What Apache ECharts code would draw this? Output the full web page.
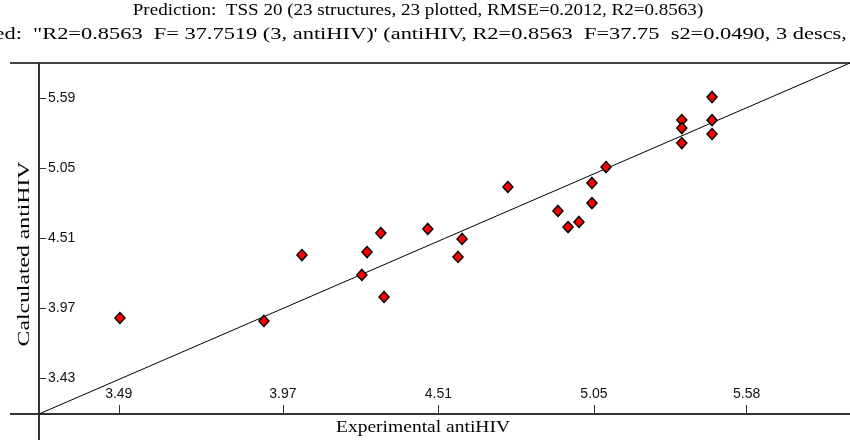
<!DOCTYPE html>
<html>
<head>
<meta charset="utf-8">
<script src="https://cdn.jsdelivr.net/npm/echarts@6/dist/echarts.min.js"></script>
<style>
html,body{margin:0;padding:0;background:#fff;}
#chart{width:850px;height:440px;}
</style>
</head>
<body>
<div id="chart"></div>
<script>
// ---- data ----
const experimental = [3.404, 3.904, 4.036, 4.310, 4.262, 4.244, 4.321, 4.473, 4.592, 4.578, 4.751, 4.925, 4.960, 4.998, 5.043, 5.043, 5.092, 5.460, 5.355, 5.355, 5.355, 5.460, 5.460];
const calculated   = [3.893, 3.870, 4.379, 4.549, 4.402, 4.225, 4.055, 4.580, 4.503, 4.364, 4.904, 4.719, 4.595, 4.634, 4.780, 4.935, 5.058, 5.598, 5.421, 5.359, 5.243, 5.420, 5.313];

const xTickValues = [3.40, 3.97, 4.51, 5.05, 5.58];
const xTickLabels = ['3.49', '3.97', '4.51', '5.05', '5.58'];
const yTickValues = [3.43, 3.97, 4.51, 5.05, 5.59];
const yTickLabels = ['3.43', '3.97', '4.51', '5.05', '5.59'];

const xRange = [3.123, 5.939];
const yRange = [3.152, 5.861];
const fitLineX = [3.123, 5.939];
const fitLineY = [3.152, 5.861];

const titleLine1 = 'Prediction:  TSS 20 (23 structures, 23 plotted, RMSE=0.2012, R2=0.8563)';
const titleLine2 = 'ed:  "R2=0.8563  F= 37.7519 (3, antiHIV)\' (antiHIV, R2=0.8563  F=37.75  s2=0.0490, 3 descs,';
const xName = 'Experimental antiHIV';
const yName = 'Calculated antiHIV';

// ---- build ----
function labelFor(values, labels) {
  return function (v) {
    let best = 0, bd = Infinity;
    values.forEach((t, i) => { const d = Math.abs(t - v); if (d < bd) { bd = d; best = i; } });
    return labels[best];
  };
}
const points = experimental.map((x, i) => [x, calculated[i]]);
const fit = fitLineX.map((x, i) => [x, fitLineY[i]]);

const serif = '"Liberation Serif", "DejaVu Serif", serif';
const sans = '"Liberation Sans", Arial, sans-serif';
const axisCol = '#333';

const chart = echarts.init(document.getElementById('chart'));
chart.setOption({
  animation: false,
  backgroundColor: '#fff',
  grid: { left: 39, right: 0, top: 63, bottom: 26, containLabel: false, outerBoundsMode: 'none' },
  xAxis: {
    type: 'value', min: xRange[0], max: xRange[1],
    splitLine: { show: false },
    axisLine: { show: true, lineStyle: { color: axisCol, width: 2 } },
    axisTick: { show: true, inside: true, length: 9, customValues: xTickValues, lineStyle: { color: axisCol, width: 1 } },
    axisLabel: { show: true, inside: true, margin: 13, customValues: xTickValues, formatter: labelFor(xTickValues, xTickLabels),
      fontFamily: sans, fontSize: 14, color: '#111' }
  },
  yAxis: {
    type: 'value', min: yRange[0], max: yRange[1],
    splitLine: { show: false },
    axisLine: { show: true, lineStyle: { color: axisCol, width: 2 } },
    axisTick: { show: true, inside: true, length: 7, customValues: yTickValues, lineStyle: { color: axisCol, width: 1 } },
    axisLabel: { show: true, inside: true, margin: 9, customValues: yTickValues, formatter: labelFor(yTickValues, yTickLabels),
      fontFamily: sans, fontSize: 14, color: '#111' }
  },
  series: [
    {
      type: 'line', data: fit, showSymbol: false, symbol: 'none',
      lineStyle: { color: '#000', width: 1 }, z: 2, silent: true
    },
    {
      type: 'scatter', data: points, symbol: 'diamond', symbolSize: [10, 11],
      itemStyle: { color: '#ff0000', borderColor: '#000', borderWidth: 1.5, opacity: 1 }, z: 3
    }
  ],
  graphic: [
    { type: 'text', x: 418, y: 11, scaleX: 1.19, style: { text: titleLine1, font: '16px ' + serif, fill: '#000', align: 'center', verticalAlign: 'middle' } },
    { type: 'text', x: -5.5, y: 35, scaleX: 1.4, style: { text: titleLine2, font: '16px ' + serif, fill: '#000', align: 'left', verticalAlign: 'middle' } },
    { type: 'rect', shape: { x: 10, y: 62, width: 840, height: 2 }, style: { fill: '#444' } },
    { type: 'line', shape: { x1: 10, y1: 414, x2: 39, y2: 414 }, style: { stroke: axisCol, lineWidth: 2 } },
    { type: 'line', shape: { x1: 39, y1: 414, x2: 39, y2: 440 }, style: { stroke: axisCol, lineWidth: 2 } },
    { type: 'text', x: 423, y: 428, scaleX: 1.22, style: { text: xName, font: '16px ' + serif, fill: '#000', align: 'center', verticalAlign: 'middle' } },
    { type: 'text', x: 25, y: 254, rotation: Math.PI / 2, scaleX: 1.48, style: { text: yName, font: '16px ' + serif, fill: '#000', align: 'center', verticalAlign: 'middle' } }
  ]
});
</script>
</body>
</html>
